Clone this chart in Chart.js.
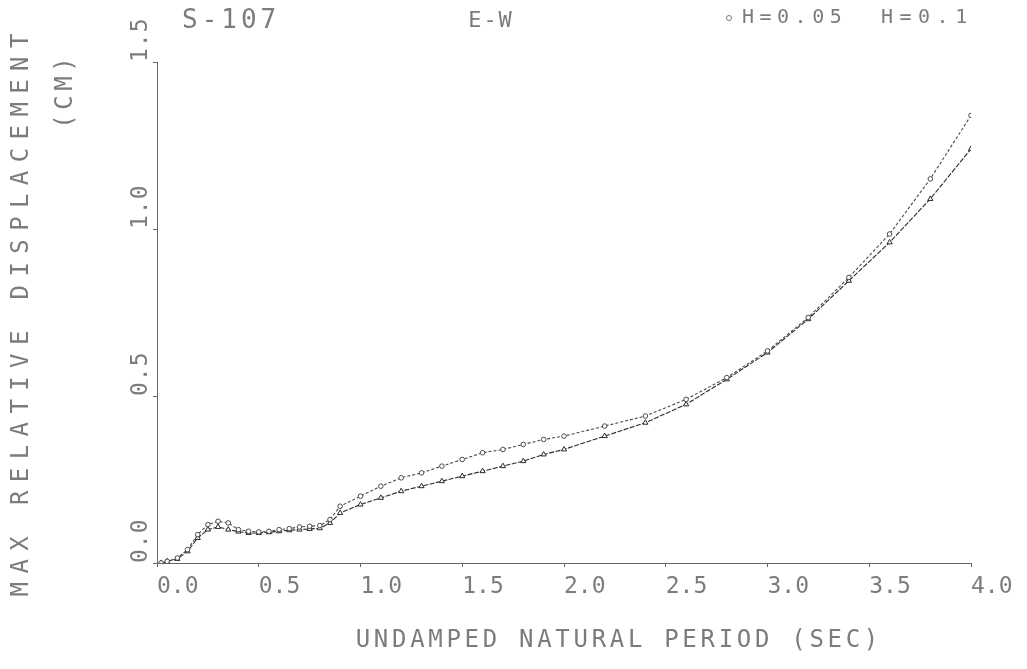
<!DOCTYPE html>
<html>
<head>
<meta charset="utf-8">
<script src="https://cdn.jsdelivr.net/npm/chart.js@4.4.1/dist/chart.umd.min.js"></script>
<style>
  html, body { margin: 0; padding: 0; background: #fff; }
  #wrap { width: 1027px; height: 669px; }
</style>
</head>
<body>
<div id="wrap"><canvas id="spectrum" width="1027" height="669"></canvas></div>
<script>
// Undamped natural period (sec)
const periods = [0.02, 0.05, 0.1, 0.15, 0.2, 0.25, 0.3, 0.35, 0.4, 0.45, 0.5, 0.55, 0.6, 0.65, 0.7, 0.75, 0.8, 0.85, 0.9,
                 1.0, 1.1, 1.2, 1.3, 1.4, 1.5, 1.6, 1.7, 1.8, 1.9, 2.0, 2.2, 2.4, 2.6, 2.8, 3.0, 3.2, 3.4, 3.6, 3.8, 4.0];

// Max relative displacement (cm), damping h = 0.05
const dispH005 = [0.0, 0.005, 0.015, 0.04, 0.085, 0.115, 0.125, 0.12, 0.1, 0.095, 0.093, 0.095, 0.1, 0.103, 0.108, 0.11, 0.112, 0.13, 0.17,
                  0.2, 0.23, 0.255, 0.27, 0.29, 0.31, 0.33, 0.34, 0.355, 0.37, 0.38, 0.41, 0.44, 0.49, 0.555, 0.635, 0.735, 0.855, 0.985, 1.15, 1.34];

// Max relative displacement (cm), damping h = 0.1
const dispH01 = [0.0, 0.005, 0.012, 0.035, 0.075, 0.1, 0.108, 0.1, 0.094, 0.09, 0.09, 0.092, 0.095, 0.098, 0.1, 0.102, 0.104, 0.12, 0.15,
                 0.175, 0.195, 0.215, 0.23, 0.245, 0.26, 0.275, 0.29, 0.305, 0.325, 0.34, 0.38, 0.42, 0.475, 0.55, 0.63, 0.73, 0.845, 0.96, 1.09, 1.24];

const xTicks = [0, 0.5, 1.0, 1.5, 2.0, 2.5, 3.0, 3.5, 4.0];
const yTicks = [0, 0.5, 1.0, 1.5];

const stationName = 'S-107';
const componentName = 'E-W';
const seriesNames = ['H=0.05', 'H=0.1'];
const xTitle = 'UNDAMPED NATURAL PERIOD (SEC)';
const yTitleMain = 'MAX RELATIVE DISPLACEMENT';
const yTitleUnit = '(CM)';

const INK = '#7c7c7c';
const MONO = '"DejaVu Sans Mono", "Liberation Mono", monospace';

function toPoints(xs, ys) {
  return xs.map((x, i) => ({ x: x, y: ys[i] }));
}

function spacedText(ctx, text, x, y, spacing, align) {
  ctx.letterSpacing = spacing + 'px';
  const w = ctx.measureText(text).width - spacing;
  let sx = x;
  if (align === 'center') sx = x - w / 2;
  else if (align === 'right') sx = x - w;
  ctx.textAlign = 'left';
  ctx.fillText(text, sx, y);
  ctx.letterSpacing = '0px';
}

// Plotter-style lettering: title, legend, rotated y labels and axis titles
const plotterText = {
  id: 'plotterText',
  afterDraw(chart) {
    const ctx = chart.ctx;
    const yScale = chart.scales.y;
    ctx.save();
    ctx.fillStyle = INK;
    ctx.textBaseline = 'middle';

    // Header
    ctx.font = '26px ' + MONO;
    spacedText(ctx, stationName, 182, 21, 4, 'left');
    ctx.font = '22px ' + MONO;
    spacedText(ctx, componentName, 490, 21, 2, 'center');

    // Legend
    ctx.font = '20px ' + MONO;
    ctx.strokeStyle = INK;
    ctx.lineWidth = 1;
    ctx.beginPath();
    ctx.arc(729, 18, 2.5, 0, Math.PI * 2);
    ctx.stroke();
    spacedText(ctx, seriesNames[0], 742, 18, 5.5, 'left');
    spacedText(ctx, seriesNames[1], 881, 18, 6.5, 'left');

    // Y tick labels, rotated, starting at each tick
    ctx.font = '23px ' + MONO;
    yTicks.forEach(v => {
      const py = yScale.getPixelForValue(v);
      ctx.save();
      ctx.translate(141, py);
      ctx.rotate(-Math.PI / 2);
      spacedText(ctx, v.toFixed(1), 0, 0, 1, 'left');
      ctx.restore();
    });

    // Y axis title (two lines)
    ctx.font = '24px ' + MONO;
    ctx.save();
    ctx.translate(22, 315);
    ctx.rotate(-Math.PI / 2);
    spacedText(ctx, yTitleMain, 0, 0, 8.4, 'center');
    ctx.restore();
    ctx.save();
    ctx.translate(66, 93);
    ctx.rotate(-Math.PI / 2);
    spacedText(ctx, yTitleUnit, 0, 0, 4.5, 'center');
    ctx.restore();

    // X axis title
    spacedText(ctx, xTitle, 617, 641, 3.7, 'center');
    ctx.restore();
  }
};

new Chart(document.getElementById('spectrum'), {
  type: 'line',
  data: {
    datasets: [
      {
        label: seriesNames[0],
        data: toPoints(periods, dispH005),
        borderColor: '#4a4a4a',
        borderWidth: 1.1,
        borderDash: [3, 2],
        pointStyle: 'circle',
        pointRadius: 2.3,
        pointBorderWidth: 1,
        pointBorderColor: '#4a4a4a',
        pointBackgroundColor: '#fff',
        tension: 0
      },
      {
        label: seriesNames[1],
        data: toPoints(periods, dispH01),
        borderColor: '#2a2a2a',
        borderWidth: 1.1,
        borderDash: [5, 1.5],
        pointStyle: 'triangle',
        pointRadius: 3,
        pointBorderWidth: 1,
        pointBorderColor: '#2a2a2a',
        pointBackgroundColor: '#fff',
        tension: 0
      }
    ]
  },
  options: {
    responsive: false,
    animation: false,
    events: [],
    layout: { padding: { left: 157, top: 62, right: 56, bottom: 0 } },
    plugins: {
      legend: { display: false },
      title: { display: false },
      tooltip: { enabled: false }
    },
    scales: {
      x: {
        type: 'linear',
        min: 0,
        max: 4,
        afterFit(scale) { scale.height = 106; },
        afterBuildTicks(scale) { scale.ticks = xTicks.map(v => ({ value: v })); },
        border: { display: true, color: '#666', width: 1, dash: [6, 3] },
        grid: { display: true, drawOnChartArea: false, drawTicks: true, tickLength: 4, color: '#666' },
        ticks: {
          align: 'start',
          autoSkip: false,
          maxRotation: 0,
          minRotation: 0,
          padding: 6,
          color: INK,
          font: { family: MONO, size: 23 },
          callback: v => Number(v).toFixed(1)
        }
      },
      y: {
        type: 'linear',
        min: 0,
        max: 1.5,
        afterFit(scale) { scale.width = 0; },
        afterBuildTicks(scale) { scale.ticks = yTicks.map(v => ({ value: v })); },
        border: { display: true, color: '#666', width: 1, dash: [6, 3] },
        grid: { display: true, drawOnChartArea: false, drawTicks: true, tickLength: 4, color: '#666' },
        ticks: { display: false }
      }
    }
  },
  plugins: [plotterText]
});
</script>
</body>
</html>
